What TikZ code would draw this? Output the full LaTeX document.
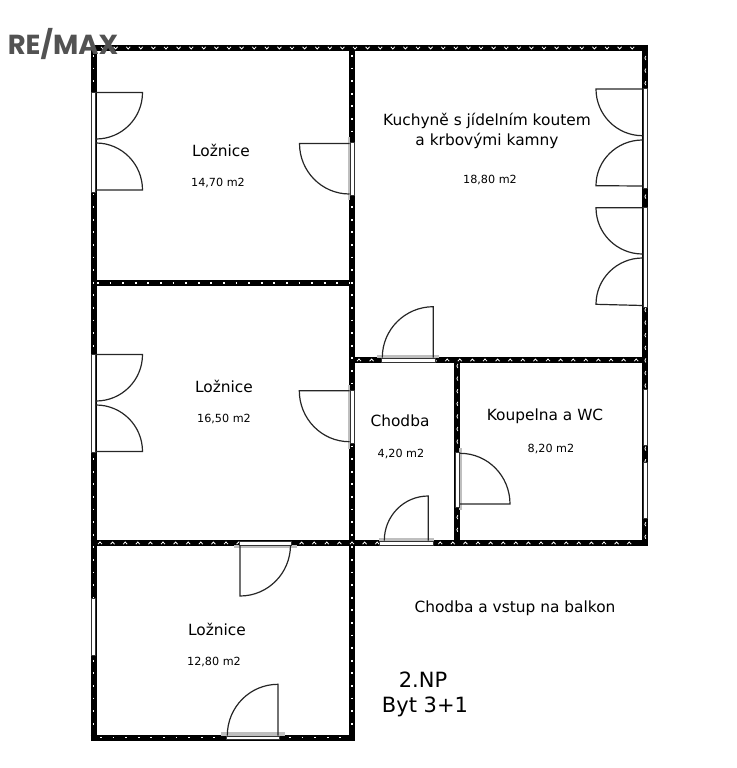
\documentclass[tikz,border=0pt]{standalone}
\usepackage{fontspec}
\setmainfont{DejaVu Sans}
\newfontfamily\logofont{Poppins}
\tikzset{
  wall/.style={line width=6pt,black},
  wallmark/.style={white,line width=0.8pt},
  walldot/.style={white,line width=1.7pt,dash pattern=on 1.7pt off 10.9pt},
  leaf/.style={draw=black!85,line width=1.2pt},
  pane/.style={fill=white,draw=black!80,line width=0.8pt},
  shade/.style={fill=black!25,draw=none},
  big/.style={font=\fontsize{15.4}{20}\selectfont,inner sep=0pt},
  small/.style={font=\fontsize{11.2}{13}\selectfont,inner sep=0pt},
  huge/.style={font=\fontsize{21}{24}\selectfont,inner sep=0pt}
}
\begin{document}
\begin{tikzpicture}[x=1pt,y=-1pt]
\useasboundingbox (0,0) rectangle (736,768);

% walls
\draw[wall] (90.5,48)--(648,48);
\draw[wall] (93.5,45)--(93.5,740.5);
\draw[wall] (90.5,737.5)--(355.3,737.5);
\draw[wall] (352.3,45)--(352.3,740.5);
\draw[wall] (93.5,283)--(352.3,283);
\draw[wall] (90.5,543)--(648,543);
\draw[wall] (352.3,360)--(645,360);
\draw[wall] (457,360)--(457,543);
\draw[wall] (645,45)--(645,546);

% marks in the walls
\draw[walldot] (93.5,55)--(93.5,735);
\draw[walldot] (352.3,55)--(352.3,735);
\draw[walldot] (100,737.5)--(350,737.5);
\draw[walldot] (97,283)--(350,283);
\foreach \mx in {103,115.6,...,640}
  \draw[wallmark] (\mx-2,46.8)--(\mx,49)--(\mx+2,46.8);
\foreach \mx in {100,112.6,...,640}
  \draw[wallmark] (\mx-2,544.2)--(\mx,542)--(\mx+2,544.2);
\foreach \mx in {359,371.6,...,640}
  \draw[wallmark] (\mx-2,361.2)--(\mx,359)--(\mx+2,361.2);
\foreach \my in {58,70.6,...,540}
  \draw[wallmark] (645.8,\my-2) to[bend right=50] (645.8,\my+2);
\foreach \my in {366,378.6,...,540}
  \draw[wallmark] (457.8,\my-2) to[bend right=50] (457.8,\my+2);

% shadows beside the doors
\fill[shade] (348,137) rectangle (350,200);
\fill[shade] (348,385) rectangle (350,449);
\fill[shade] (377,355) rectangle (439,358);
\fill[shade] (379,538) rectangle (434,541);
\fill[shade] (459,448) rectangle (462,510);
\fill[shade] (234,545) rectangle (297,548);
\fill[shade] (221,732) rectangle (285,736);

% windows
\filldraw[pane] (91.5,92) rectangle (95.5,192);
\filldraw[pane] (91.5,354) rectangle (95.5,452);
\filldraw[pane] (91.5,598) rectangle (95,655);
\filldraw[pane] (643.5,88) rectangle (647,188);
\filldraw[pane] (643.5,207) rectangle (647,307);
\filldraw[pane] (643.5,389) rectangle (647,445);
\filldraw[pane] (643.5,462) rectangle (647,518);
\filldraw[pane] (350,142) rectangle (354,195);
\filldraw[pane] (350,390) rectangle (354,443);
\filldraw[pane] (381.5,358) rectangle (435,362);
\filldraw[pane] (379.5,541) rectangle (433.5,545);
\filldraw[pane] (455,452) rectangle (459,507);
\filldraw[pane] (239,541) rectangle (291.7,545);
\filldraw[pane] (226.7,736) rectangle (279.3,739.5);

% door leaves
\draw[leaf] (96,92.5)--(142.5,92.5) to[out=-90,in=0] (96,139);
\draw[leaf] (96,143) to[out=0,in=90] (142.5,190)--(96,190);
\draw[leaf] (96,354.5)--(142.5,354.5) to[out=-90,in=0] (96,401);
\draw[leaf] (96,405) to[out=0,in=90] (142.5,451.5)--(96,451.5);
\draw[leaf] (349.5,143.5)--(299.5,143.5) to[out=-90,in=180] (349.5,194);
\draw[leaf] (349.5,390.7)--(299.3,390.7) to[out=-90,in=180] (349.5,441.7);
\draw[leaf] (433.3,357.5)--(433.3,306.7) to[out=180,in=90] (382.3,357.5);
\draw[leaf] (428.3,540.5)--(428.3,496) to[out=180,in=90] (384.3,540.5);
\draw[leaf] (460,504)--(510,504) to[out=90,in=0] (460,453.3);
\draw[leaf] (240,545)--(240,596) to[out=0,in=-90] (290.5,545);
\draw[leaf] (278,735.5)--(278,684.3) to[out=180,in=90] (227.3,735.5);
\draw[leaf] (642.5,89)--(596,89) to[out=-90,in=180] (642.5,135.7);
\draw[leaf] (642.5,140) to[out=180,in=90] (596,185.7)--(642.5,186);
\draw[leaf] (642.5,207.7)--(596,207.7) to[out=-90,in=180] (642.5,254);
\draw[leaf] (642.5,258) to[out=180,in=90] (596,304.3)--(642.5,305.5);

% labels
\node[font=\logofont\bfseries\fontsize{27.5}{30}\selectfont,text=black!68,inner sep=0pt] (logo) at (63,44.5) {RE/MAX};
\node[big] (loz1) at (221,150.5) {Ložnice};
\node[small] (area1) at (218,182.5) {14,70 m2};
\node[big,align=center] (kuch) at (487,131) {Kuchyně s jídelním koutem\\a krbovými kamny};
\node[small] (area2) at (490,179.5) {18,80 m2};
\node[big] (loz2) at (224,386.5) {Ložnice};
\node[small] (area3) at (224,418.5) {16,50 m2};
\node[big] (chodba) at (400,421) {Chodba};
\node[small] (area4) at (401,453.5) {4,20 m2};
\node[big] (koup) at (545,416) {Koupelna a WC};
\node[small] (area5) at (551,448.5) {8,20 m2};
\node[big] (vstup) at (515,608) {Chodba a vstup na balkon};
\node[big] (loz3) at (217,629.5) {Ložnice};
\node[small] (area6) at (214,661.5) {12,80 m2};
\node[huge] (np) at (423,680) {2.NP};
\node[huge] (byt) at (425,707) {Byt 3+1};
\end{tikzpicture}
\end{document}
